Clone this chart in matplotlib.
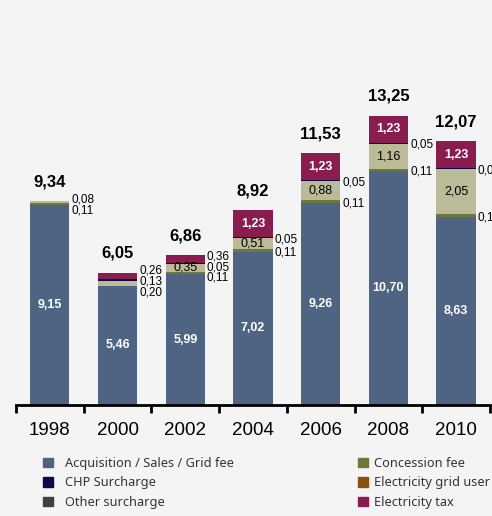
import matplotlib
matplotlib.use("Agg")
import matplotlib.pyplot as plt
from matplotlib.patches import Patch
import numpy as np

years = ["1998", "2000", "2002", "2004", "2006", "2008", "2010"]

# stack order bottom -> top
base = [9.15, 5.46, 5.99, 7.02, 9.26, 10.70, 8.63]      # Acquisition / Sales / Grid fee
concession = [0.11, 0.00, 0.11, 0.11, 0.11, 0.11, 0.11]
eeg = [0.08, 0.20, 0.35, 0.51, 0.88, 1.16, 2.05]
chp = [0.00, 0.13, 0.05, 0.05, 0.05, 0.05, 0.05]
tax = [0.00, 0.26, 0.36, 1.23, 1.23, 1.23, 1.23]
totals = [9.34, 6.05, 6.86, 8.92, 11.53, 13.25, 12.07]

c_base = "#4f6482"
c_conc = "#6a7a3a"
c_eeg = "#bcbb98"
c_chp = "#0a0a48"
c_other = "#404040"
c_grid = "#8b5014"
c_tax = "#8a1d4f"
bg = "#f4f4f4"

plt.rcParams["font.family"] = ["Liberation Sans", "DejaVu Sans"]

fig = plt.figure(figsize=(4.92, 5.16), dpi=100, facecolor=bg)
ax = fig.add_axes([16 / 492, (516 - 405) / 516, 1 - 16 / 492, 393 / 516])
ax.set_facecolor(bg)

x = np.arange(len(years))
w = 0.58
series = [
    ("base", base, c_base),
    ("conc", concession, c_conc),
    ("eeg", eeg, c_eeg),
    ("chp", chp, c_chp),
    ("tax", tax, c_tax),
]
# which values get written inside the bar, the rest go to the right side
inside_min = {"base": 0.3, "eeg": 0.3, "tax": 1.0}
inside_style = {"base": ("white", "bold"), "eeg": ("black", "normal"), "tax": ("white", "bold")}


def fmt(v):
    return f"{v:.2f}".replace(".", ",")


def spread(centers, gap):
    clusters = [[c] for c in centers]
    changed = True
    while changed:
        changed = False
        for k in range(len(clusters) - 1):
            lo, hi = clusters[k], clusters[k + 1]
            lo_top = np.mean(lo) + (len(lo) - 1) / 2 * gap
            hi_bot = np.mean(hi) - (len(hi) - 1) / 2 * gap
            if hi_bot - lo_top < gap:
                clusters[k] = lo + hi
                del clusters[k + 1]
                changed = True
                break
    out = []
    for cl in clusters:
        m = np.mean(cl)
        n = len(cl)
        out += [m + (j - (n - 1) / 2) * gap for j in range(n)]
    return out


bottom = np.zeros(len(years))
side = [[] for _ in years]
for name, vals, col in series:
    vals = np.array(vals)
    ax.bar(x, vals, w, bottom=bottom, color=col, edgecolor="none", zorder=2)
    for i, v in enumerate(vals):
        if v <= 0:
            continue
        mid = bottom[i] + v / 2
        if name in inside_min and v >= inside_min[name]:
            tc, fw = inside_style[name]
            ax.text(x[i], mid, fmt(v), ha="center", va="center", color=tc,
                    fontsize=9, fontweight=fw, zorder=3)
        else:
            side[i].append((mid, v))
    bottom += vals

for i, items in enumerate(side):
    ys = spread([m for m, _ in items], 0.5)
    for (m, v), yy in zip(items, ys):
        ax.text(x[i] + w / 2 + 0.03, yy - 0.08, fmt(v), ha="left", va="center",
                fontsize=8.5, color="black", zorder=3)

for i, t in enumerate(totals):
    ax.text(x[i], t + 0.55, fmt(t), ha="center", va="bottom", fontsize=12,
            fontweight="bold", color="black")

ax.set_xlim(-0.5, 6.53)
ax.set_ylim(0, 18)
ax.set_yticks([])
ax.set_xticks(np.arange(-0.5, 7, 1.0))
ax.set_xticklabels([])
ax.set_xticks(x, minor=True)
ax.set_xticklabels(years, minor=True, fontsize=13.5)
ax.tick_params(axis="x", which="major", direction="out", length=6, width=2, color="black")
ax.tick_params(axis="x", which="minor", length=0, pad=12)
for s in ["top", "right", "left"]:
    ax.spines[s].set_visible(False)
ax.spines["bottom"].set_linewidth(2)

leg_font = {"family": ["Noto Sans", "DejaVu Sans"], "size": 9.2}
left_h = [Patch(color=c_base), Patch(color=c_chp), Patch(color=c_other)]
left_l = ["Acquisition / Sales / Grid fee", "CHP Surcharge", "Other surcharge"]
right_h = [Patch(color=c_conc), Patch(color=c_grid), Patch(color=c_tax)]
right_l = ["Concession fee", "Electricity grid user", "Electricity tax"]
for h, l, px in [(left_h, left_l, 43), (right_h, right_l, 358)]:
    leg = fig.legend(h, l, loc="upper left", bbox_to_anchor=(px / 492, 1 - 457 / 516),
                     frameon=False, prop=leg_font, handlelength=0.75, handleheight=0.75,
                     handletextpad=1.0 if px < 100 else 0.5, labelspacing=0.5,
                     borderpad=0, borderaxespad=0)
    for t in leg.get_texts():
        t.set_color("#333333")

fig.savefig("out.png", dpi=100, facecolor=bg)
